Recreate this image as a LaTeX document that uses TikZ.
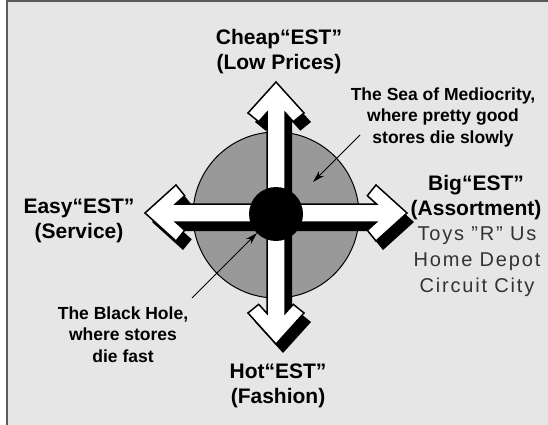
\documentclass[tikz,border=0pt]{standalone}
\usepackage{fontspec}
\setmainfont{Liberation Sans}
\usetikzlibrary{arrows.meta}
\definecolor{bg}{HTML}{E6E6E6}
\definecolor{seagray}{HTML}{999999}
\definecolor{framegray}{HTML}{5A5A5A}
\definecolor{storegray}{HTML}{333333}
\tikzset{
  biglabel/.style={font=\bfseries\fontsize{21}{25}\selectfont, align=center, inner sep=0pt, anchor=base},
  note/.style={font=\bfseries\fontsize{17.5}{21.5}\selectfont, align=center, inner sep=0pt, anchor=base},
  stores/.style={font=\fontsize{20}{26}\selectfont\addfontfeature{LetterSpace=9}, text=storegray, align=center, inner sep=0pt, anchor=base},
  pointer/.style={line width=0.9pt, -{Stealth[length=12pt,width=7pt]}},
  arrowbody/.style={fill=white, draw=black, line width=1.5pt, line join=miter},
  arrowshadow/.style={fill=black},
}
\begin{document}
\begin{tikzpicture}[x=1pt,y=-1pt]
\useasboundingbox (0,0) rectangle (548,425);
\fill[white] (0,0) rectangle (548,425);
\fill[bg] (7,1) rectangle (548,425);
\draw[framegray, line width=2pt] (7,425) -- (7,1) -- (548,1);
% sea of mediocrity
\node[circle, minimum size=166pt, inner sep=0pt, fill=seagray, draw=black, line width=1pt] (sea) at (276,215) {};
% arrow shadows
\foreach \a in {0,90,180,270}{
  \fill[arrowshadow, shift={(283,222)}, rotate=\a] (0,-9) -- (100.5,-9) -- (91.3,-17.3) -- (100,-28) -- (131,0) -- (100,28) -- (91.3,17.3) -- (100.5,9) -- (0,9) -- cycle;
}
% white arrows
\foreach \a in {0,90,180,270}{
  \filldraw[arrowbody, shift={(276,213)}, rotate=\a] (0,-9) -- (100.5,-9) -- (91.3,-17.3) -- (100,-28) -- (131,0) -- (100,28) -- (91.3,17.3) -- (100.5,9) -- (0,9) -- cycle;
}
% black hole
\node[circle, minimum size=54pt, inner sep=0pt, fill=black] (hole) at (276,214) {};
% labels (anchor = baseline of last line)
\node[biglabel] (cheap) at (279,70) {Cheap“EST”\\(Low Prices)};
\node[biglabel] (easy) at (79,238) {Easy“EST”\\(Service)};
\node[biglabel] (big) at (476,215) {Big“EST”\\(Assortment)};
\node[stores] (names) at (477,292) {Toys "R" Us\\Home Depot\\Circuit City};
\node[biglabel] (hot) at (278,403) {Hot“EST”\\(Fashion)};
\node[note] (seatext) at (443,143) {The Sea of Mediocrity,\\where pretty good\\stores die slowly};
\node[note] (holetext) at (123,362) {The Black Hole,\\where stores\\die fast};
% pointers
\coordinate (seaFrom) at (360,135);
\coordinate (seaTip) at (313,182);
\coordinate (holeFrom) at (192,298);
\coordinate (holeTip) at (257,233);
\draw[pointer] (seaFrom) -- (seaTip);
\draw[pointer] (holeFrom) -- (holeTip);
\end{tikzpicture}
\end{document}
